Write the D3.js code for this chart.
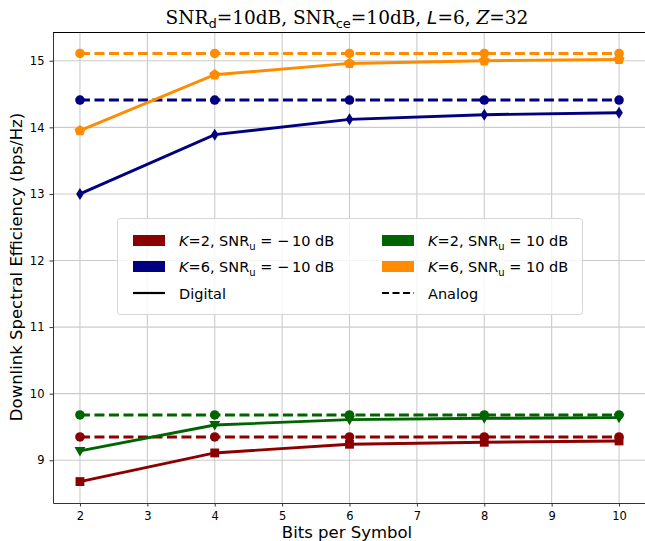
<!DOCTYPE html>
<html>
<head>
<meta charset="utf-8">
<script src="https://cdn.jsdelivr.net/npm/d3@7"></script>
<style>
  body { margin: 0; background: #fff; }
  text { font-family: "DejaVu Sans", sans-serif; }
</style>
</head>
<body>
<div id="chart-container"></div>
<script>
// bits per symbol on the x axis
var bits = [2, 4, 6, 8, 10];

// digital curves
var redDigital = [8.68, 9.11, 9.24, 9.27, 9.29];
var greenDigital = [9.14, 9.53, 9.61, 9.63, 9.64];
var blueDigital = [13.00, 13.89, 14.12, 14.19, 14.22];
var orangeDigital = [13.95, 14.79, 14.96, 15.00, 15.02];

// analog curves (flat)
var redAnalog = [9.35, 9.35, 9.35, 9.35, 9.35];
var greenAnalog = [9.68, 9.68, 9.68, 9.68, 9.68];
var blueAnalog = [14.41, 14.41, 14.41, 14.41, 14.41];
var orangeAnalog = [15.11, 15.11, 15.11, 15.11, 15.11];

var xTicks = [2, 3, 4, 5, 6, 7, 8, 9, 10];
var yTicks = [9, 10, 11, 12, 13, 14, 15];

document.addEventListener('DOMContentLoaded', function() {
  visualise();
});

function visualise() {
  const svgWidth = 645;
  const svgHeight = 541;
  const margin = {top: 32, left: 53, bottom: 38, right: -1};
  const w = svgWidth - margin.left - margin.right;
  const h = svgHeight - margin.top - margin.bottom;

  const svg = d3.select('#chart-container')
      .append('svg')
      .attr('width', svgWidth)
      .attr('height', svgHeight);

  const chart = svg.append('g')
      .attr('transform', 'translate(' + margin.left + ',' + margin.top + ')');

  const x = d3.scaleLinear().domain([1.6, 10.4]).range([0, w]);
  const y = d3.scaleLinear().domain([8.358, 15.432]).range([h, 0]);

  // grid
  chart.append('g').selectAll('line').data(xTicks).enter().append('line')
      .attr('x1', d => x(d)).attr('x2', d => x(d))
      .attr('y1', 0).attr('y2', h)
      .attr('stroke', '#cbcbcb').attr('stroke-width', 1.1);
  chart.append('g').selectAll('line').data(yTicks).enter().append('line')
      .attr('x1', 0).attr('x2', w)
      .attr('y1', d => y(d)).attr('y2', d => y(d))
      .attr('stroke', '#cbcbcb').attr('stroke-width', 1.1);

  // axes
  const xAxis = chart.append('g')
      .attr('transform', 'translate(0,' + h + ')')
      .call(d3.axisBottom(x).tickValues(xTicks).tickSize(3.5).tickSizeOuter(0).tickPadding(5).tickFormat(d3.format('d')));
  const yAxis = chart.append('g')
      .call(d3.axisLeft(y).tickValues(yTicks).tickSize(3.5).tickSizeOuter(0).tickPadding(5).tickFormat(d3.format('d')));
  [xAxis, yAxis].forEach(function(a) {
    a.selectAll('text').style('font-size', '11.5px').attr('fill', '#000');
    a.selectAll('line').attr('stroke', '#333');
    a.select('.domain').attr('stroke', '#333').attr('stroke-width', 1);
  });
  chart.append('line').attr('x1', 0).attr('x2', w).attr('y1', 0.5).attr('y2', 0.5)
      .attr('stroke', '#000').attr('stroke-width', 1);

  const line = d3.line()
      .x(d => x(d[0]))
      .y(d => y(d[1]));

  const series = [
    {vals: redAnalog, color: '#8b0000', dash: true, marker: 'circle'},
    {vals: greenAnalog, color: '#006400', dash: true, marker: 'circle'},
    {vals: blueAnalog, color: '#000080', dash: true, marker: 'circle'},
    {vals: orangeAnalog, color: '#ff8c00', dash: true, marker: 'circle'},
    {vals: redDigital, color: '#8b0000', dash: false, marker: 'square'},
    {vals: greenDigital, color: '#006400', dash: false, marker: 'tri'},
    {vals: blueDigital, color: '#000080', dash: false, marker: 'diamond'},
    {vals: orangeDigital, color: '#ff8c00', dash: false, marker: 'pentagon'}
  ];

  const symbols = {
    circle: d3.symbol().type(d3.symbolCircle).size(72),
    square: d3.symbol().type(d3.symbolSquare).size(78),
    pentagon: d3.symbol().type({draw: function(ctx, size) {
      const r = Math.sqrt(size / 2.38);
      for (let i = 0; i < 5; i++) {
        const a = -Math.PI / 2 + i * 2 * Math.PI / 5;
        if (i === 0) ctx.moveTo(r * Math.cos(a), r * Math.sin(a));
        else ctx.lineTo(r * Math.cos(a), r * Math.sin(a));
      }
      ctx.closePath();
    }}).size(80),
    tri: d3.symbol().type({draw: function(ctx) {
      ctx.moveTo(0, 5.5); ctx.lineTo(-5.5, -4); ctx.lineTo(5.5, -4); ctx.closePath();
    }}),
    diamond: d3.symbol().type({draw: function(ctx) {
      ctx.moveTo(0, -6); ctx.lineTo(3.8, 0); ctx.lineTo(0, 6); ctx.lineTo(-3.8, 0); ctx.closePath();
    }})
  };

  series.forEach(function(s) {
    const pts = bits.map((b, i) => [b, s.vals[i]]);
    chart.append('path')
        .datum(pts)
        .attr('fill', 'none')
        .attr('stroke', s.color)
        .attr('stroke-width', 2.9)
        .attr('stroke-dasharray', s.dash ? '10,4.5' : null)
        .attr('d', line);
    chart.append('g').selectAll('path').data(pts).enter().append('path')
        .attr('transform', d => 'translate(' + x(d[0]) + ',' + y(d[1]) + ')')
        .attr('d', symbols[s.marker]())
        .attr('fill', s.color);
  });

  // legend
  const lg = svg.append('g').attr('transform', 'translate(117,218)');
  lg.append('rect').attr('x', 0.5).attr('y', 0.5).attr('width', 465).attr('height', 96)
      .attr('rx', 3).attr('fill', '#fff').attr('fill-opacity', 0.8)
      .attr('stroke', '#d6d6d6').attr('stroke-width', 1);

  const legendItems = [
    {col: 0, row: 0, color: '#8b0000', k: 2, snr: '\u2212\u200910'},
    {col: 1, row: 0, color: '#006400', k: 2, snr: '10'},
    {col: 0, row: 1, color: '#000080', k: 6, snr: '\u2212\u200910'},
    {col: 1, row: 1, color: '#ff8c00', k: 6, snr: '10'}
  ];
  const colX = [16, 265];
  const rowY = [22, 48, 75];

  legendItems.forEach(function(it) {
    const gx = colX[it.col], gy = rowY[it.row];
    lg.append('rect').attr('x', gx).attr('y', gy - 5).attr('width', 32).attr('height', 11)
        .attr('fill', it.color);
    const t = lg.append('text').attr('x', gx + 46).attr('y', gy + 5.5)
        .style('font-size', '14.5px').attr('fill', '#000');
    t.append('tspan').style('font-style', 'italic').text('K');
    t.append('tspan').text('=' + it.k + ', SNR');
    t.append('tspan').attr('dy', 4).style('font-size', '10px').text('u');
    t.append('tspan').attr('dy', -4).text(' = ' + it.snr + ' dB');
  });
  lg.append('line').attr('x1', colX[0]).attr('x2', colX[0] + 32)
      .attr('y1', rowY[2]).attr('y2', rowY[2]).attr('stroke', '#000').attr('stroke-width', 2.2);
  lg.append('text').attr('x', colX[0] + 46).attr('y', rowY[2] + 5.5)
      .style('font-size', '14.5px').text('Digital');
  lg.append('line').attr('x1', colX[1]).attr('x2', colX[1] + 32)
      .attr('y1', rowY[2]).attr('y2', rowY[2]).attr('stroke', '#000').attr('stroke-width', 2.2)
      .attr('stroke-dasharray', '7,3.5');
  lg.append('text').attr('x', colX[1] + 46).attr('y', rowY[2] + 5.5)
      .style('font-size', '14.5px').text('Analog');

  // title
  const title = svg.append('text').attr('x', 347).attr('y', 24).attr('text-anchor', 'middle')
      .style('font-family', '"DejaVu Serif", serif').style('font-size', '18.5px').attr('fill', '#000');
  title.append('tspan').text('SNR');
  title.append('tspan').attr('dy', 4).style('font-size', '13px').style('font-family', '"DejaVu Sans", sans-serif').text('d');
  title.append('tspan').attr('dy', -4).text('=10dB, SNR');
  title.append('tspan').attr('dy', 4).style('font-size', '13px').style('font-family', '"DejaVu Sans", sans-serif').text('ce');
  title.append('tspan').attr('dy', -4).text('=10dB, ');
  title.append('tspan').style('font-style', 'italic').style('font-family', '"DejaVu Sans", sans-serif').text('L');
  title.append('tspan').text('=6, ');
  title.append('tspan').style('font-style', 'italic').text('Z');
  title.append('tspan').text('=32');

  // axis labels
  svg.append('text').attr('x', 347).attr('y', 538).attr('text-anchor', 'middle')
      .style('font-size', '16.5px').text('Bits per Symbol');
  svg.append('text').attr('transform', 'translate(22,' + 267 + ') rotate(-90)')
      .attr('text-anchor', 'middle').style('font-size', '16.5px')
      .text('Downlink Spectral Efficiency (bps/Hz)');
}
</script>
</body>
</html>
